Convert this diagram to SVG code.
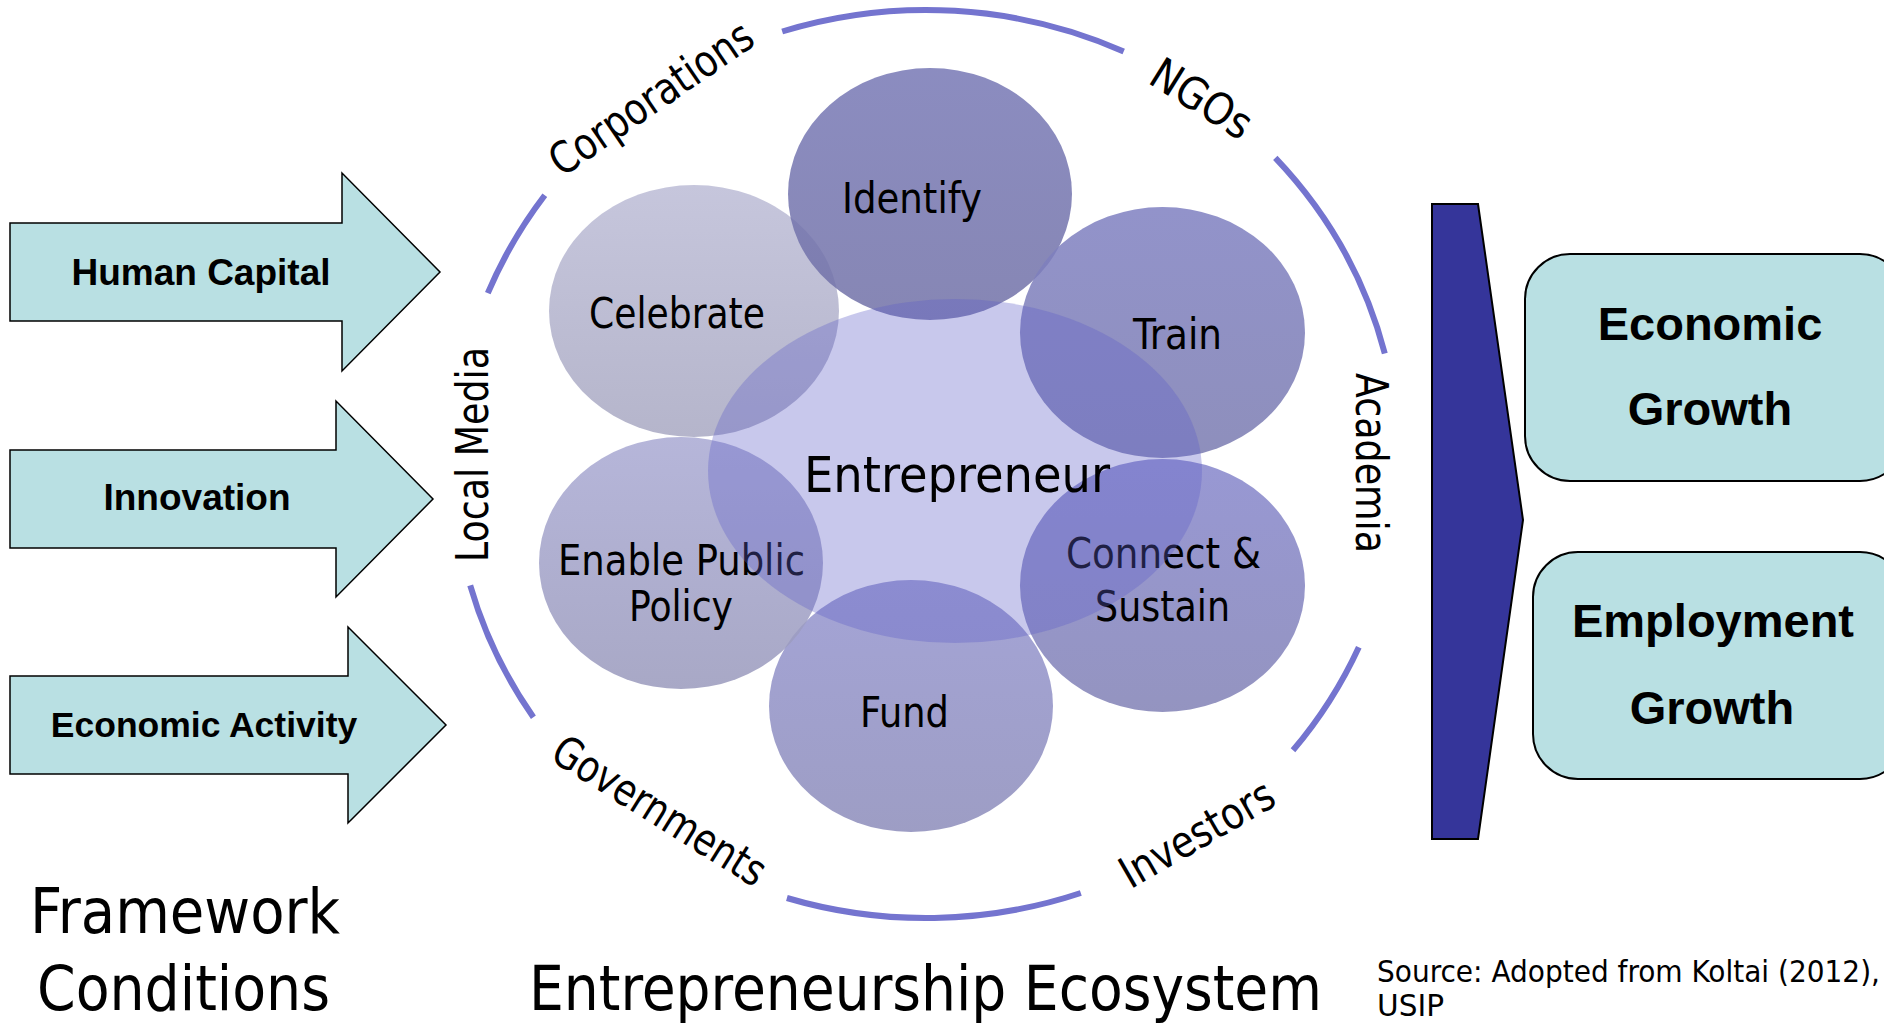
<svg xmlns="http://www.w3.org/2000/svg" width="1884" height="1023" viewBox="0 0 1884 1023">
<style>
.t{font-family:"DejaVu Sans Condensed","DejaVu Sans",sans-serif;font-stretch:condensed;fill:#000}
.rl{font-size:44px}
.cl{font-size:43px}
.b{font-family:"Liberation Sans",Arial,sans-serif;font-weight:bold;text-anchor:middle;fill:#000}
.arrow{fill:#b9e0e3;stroke:#000;stroke-width:1.5}
.box{fill:#b9e0e3;stroke:#000;stroke-width:2}
.ring{fill:none;stroke:#7474cf;stroke-width:6;stroke-linecap:butt}
.c{fill-opacity:0.85}
</style>
<defs>
<linearGradient id="gCel" x1="0" y1="0" x2="0" y2="1"><stop offset="0" stop-color="#bcbcd6"/><stop offset="1" stop-color="#a8a8c2"/></linearGradient>
<linearGradient id="gIde" x1="0" y1="0" x2="0" y2="1"><stop offset="0" stop-color="#7778b5"/><stop offset="1" stop-color="#7171a7"/></linearGradient>
<linearGradient id="gTra" x1="0" y1="0" x2="0" y2="1"><stop offset="0" stop-color="#7f80c1"/><stop offset="1" stop-color="#7a7bb0"/></linearGradient>
<linearGradient id="gEna" x1="0" y1="0" x2="0" y2="1"><stop offset="0" stop-color="#a9a9d3"/><stop offset="1" stop-color="#9999bc"/></linearGradient>
<linearGradient id="gFun" x1="0" y1="0" x2="0" y2="1"><stop offset="0" stop-color="#9494cf"/><stop offset="1" stop-color="#8c8cba"/></linearGradient>
<linearGradient id="gCon" x1="0" y1="0" x2="0" y2="1"><stop offset="0" stop-color="#8686cc"/><stop offset="1" stop-color="#8181b5"/></linearGradient>
</defs>
<rect width="1884" height="1023" fill="#fff"/>

<g id="ring">
<path class="ring" d="M 782.2 31.5 A 473 454 0 0 1 1123.7 51.5"/>
<path class="ring" d="M 1275.3 157.9 A 473 454 0 0 1 1384.8 353.4"/>
<path class="ring" d="M 1358.8 647.2 A 473 454 0 0 1 1293.0 750.3"/>
<path class="ring" d="M 1080.8 893.0 A 473 454 0 0 1 786.9 898.0"/>
<path class="ring" d="M 533.4 717.2 A 473 454 0 0 1 470.2 585.3"/>
<path class="ring" d="M 487.8 293.2 A 473 454 0 0 1 544.8 195.2"/>
</g>

<g id="ring-labels">
<text class="t rl" transform="translate(650.6,97.5) rotate(-34.5)" x="-118.5" y="16" textLength="237" lengthAdjust="spacingAndGlyphs">Corporations</text>
<text class="t rl" transform="translate(1202,98) rotate(32)" x="-55.5" y="16" textLength="111" lengthAdjust="spacingAndGlyphs">NGOs</text>
<text class="t rl" transform="translate(471.5,454.5) rotate(-90)" x="-107.5" y="16" textLength="215" lengthAdjust="spacingAndGlyphs">Local Media</text>
<text class="t rl" transform="translate(1371.5,463) rotate(90)" x="-90" y="16" textLength="180" lengthAdjust="spacingAndGlyphs">Academia</text>
<text class="t rl" transform="translate(660,810) rotate(32)" x="-121.5" y="16" textLength="243" lengthAdjust="spacingAndGlyphs">Governments</text>
<text class="t rl" transform="translate(1196.5,833) rotate(-30)" x="-85.5" y="16" textLength="171" lengthAdjust="spacingAndGlyphs">Investors</text>
</g>

<g id="celebrate">
<ellipse class="c" cx="694" cy="311" rx="145" ry="126" fill="url(#gCel)"/>
<text class="t cl" x="589" y="328" textLength="176" lengthAdjust="spacingAndGlyphs">Celebrate</text>
</g>
<g id="identify">
<ellipse class="c" cx="930" cy="194" rx="142" ry="126" fill="url(#gIde)"/>
<text class="t cl" x="842" y="213" textLength="140" lengthAdjust="spacingAndGlyphs">Identify</text>
</g>
<g id="train">
<ellipse class="c" cx="1162.5" cy="332.5" rx="142.5" ry="125.5" fill="url(#gTra)"/>
<text class="t cl" x="1133" y="349" textLength="89" lengthAdjust="spacingAndGlyphs">Train</text>
</g>
<g id="connect-sustain">
<ellipse class="c" cx="1162.5" cy="585.5" rx="142.5" ry="126.5" fill="url(#gCon)"/>
<text class="t cl" x="1066" y="568" textLength="195" lengthAdjust="spacingAndGlyphs">Connect &amp;</text>
<text class="t cl" x="1095" y="621" textLength="135" lengthAdjust="spacingAndGlyphs">Sustain</text>
</g>
<g id="fund">
<ellipse class="c" cx="911" cy="706" rx="142" ry="126" fill="url(#gFun)"/>
<text class="t cl" x="860" y="727" textLength="89" lengthAdjust="spacingAndGlyphs">Fund</text>
</g>
<g id="enable-public-policy">
<ellipse class="c" cx="681" cy="563" rx="142" ry="126" fill="url(#gEna)"/>
<text class="t cl" x="558" y="575" textLength="247" lengthAdjust="spacingAndGlyphs">Enable Public</text>
<text class="t cl" x="629" y="621" textLength="104" lengthAdjust="spacingAndGlyphs">Policy</text>
</g>
<g id="entrepreneur">
<ellipse cx="955" cy="471" rx="247" ry="172" fill="#5e5ec8" fill-opacity="0.34"/>
<text class="t" style="font-size:50px" x="804" y="492" textLength="306" lengthAdjust="spacingAndGlyphs">Entrepreneur</text>
</g>

<g id="human-capital">
<polygon class="arrow" points="10,223 342,223 342,173 440,272 342,371 342,321 10,321"/>
<text class="b" x="201" y="284.5" style="font-size:37px">Human Capital</text>
</g>
<g id="innovation">
<polygon class="arrow" points="10,450 336,450 336,401 433,499 336,597 336,548 10,548"/>
<text class="b" x="197" y="510" style="font-size:37px">Innovation</text>
</g>
<g id="economic-activity">
<polygon class="arrow" points="10,676 348,676 348,627 446,725 348,823 348,774 10,774"/>
<text class="b" x="204" y="737" style="font-size:35.5px">Economic Activity</text>
</g>

<g id="connectors">
<polygon points="1432,204 1478,204 1523,520 1478,839 1432,839" fill="#35359a" stroke="#000" stroke-width="2"/>
</g>

<g id="economic-growth">
<rect class="box" x="1525" y="254" width="380" height="227" rx="45"/>
<text class="b" x="1710" y="340" style="font-size:47px">Economic</text>
<text class="b" x="1710" y="425" style="font-size:47px">Growth</text>
</g>
<g id="employment-growth">
<rect class="box" x="1533" y="552" width="372" height="227" rx="45"/>
<text class="b" x="1713" y="637" style="font-size:47px">Employment</text>
<text class="b" x="1712" y="724" style="font-size:47px">Growth</text>
</g>

<g id="captions">
<text class="t" style="font-size:62px" x="30" y="933" textLength="310" lengthAdjust="spacingAndGlyphs">Framework</text>
<text class="t" style="font-size:62px" x="37" y="1010" textLength="293" lengthAdjust="spacingAndGlyphs">Conditions</text>
<text class="t" style="font-size:62px" x="529" y="1010" textLength="793" lengthAdjust="spacingAndGlyphs">Entrepreneurship Ecosystem</text>
<text class="t" style="font-size:30px" x="1377" y="982" textLength="503" lengthAdjust="spacingAndGlyphs">Source: Adopted from Koltai (2012),</text>
<text class="t" style="font-size:30px" x="1377" y="1016" textLength="67" lengthAdjust="spacingAndGlyphs">USIP</text>
</g>
</svg>
